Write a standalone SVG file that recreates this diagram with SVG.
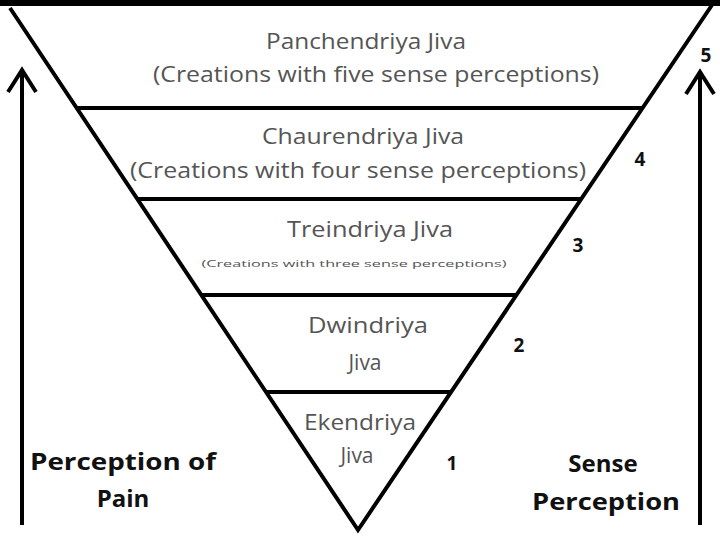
<svg xmlns="http://www.w3.org/2000/svg" width="720" height="541" viewBox="0 0 720 541">
<style>
.l{stroke:#000;stroke-width:4;fill:none}
.t{font-family:"Open Sans","Liberation Sans",sans-serif;fill:#555;font-size:21px;text-anchor:middle}
.n{font-family:"Open Sans","Liberation Sans",sans-serif;fill:#111;font-size:19px;font-weight:bold;text-anchor:middle}
.b{font-family:"Open Sans","Liberation Sans",sans-serif;fill:#111;font-size:24px;font-weight:bold;text-anchor:middle}
</style>
<rect width="720" height="541" fill="#fff"/>
<g id="connectors">
<line class="l" x1="0" y1="3" x2="720" y2="3" style="stroke-width:6"/>
<path class="l" d="M10,8 L358,530 L712,5"/>
<line class="l" x1="77" y1="108" x2="643" y2="108"/>
<line class="l" x1="137" y1="199" x2="581" y2="199"/>
<line class="l" x1="201" y1="295" x2="516" y2="295"/>
<line class="l" x1="266" y1="392" x2="451" y2="392"/>
<path class="l" d="M22,525 V70 M8,92 L22,70 L36,92"/>
<path class="l" d="M700,525 V72 M686,94 L700,72 L714,94"/>
</g>
<g id="n5"><text class="t" x="366" y="49" textLength="200" lengthAdjust="spacingAndGlyphs">Panchendriya Jiva</text><text class="t" x="376" y="82" textLength="446" lengthAdjust="spacingAndGlyphs">(Creations with five sense perceptions)</text><text class="n" x="706" y="62">5</text></g>
<g id="n4"><text class="t" x="363" y="144" textLength="202" lengthAdjust="spacingAndGlyphs">Chaurendriya Jiva</text><text class="t" x="358" y="178" textLength="456" lengthAdjust="spacingAndGlyphs">(Creations with four sense perceptions)</text><text class="n" x="640" y="166">4</text></g>
<g id="n3"><text class="t" x="370" y="237" textLength="166" lengthAdjust="spacingAndGlyphs">Treindriya Jiva</text><text class="t" x="354" y="267" style="font-size:9px" textLength="305" lengthAdjust="spacingAndGlyphs">(Creations with three sense perceptions)</text><text class="n" x="578" y="252">3</text></g>
<g id="n2"><text class="t" x="368" y="333" textLength="120" lengthAdjust="spacingAndGlyphs">Dwindriya</text><text class="t" x="365" y="370">Jiva</text><text class="n" x="519" y="352">2</text></g>
<g id="n1"><text class="t" x="360" y="430" textLength="112" lengthAdjust="spacingAndGlyphs">Ekendriya</text><text class="t" x="357" y="463">Jiva</text><text class="n" x="452" y="470">1</text></g>
<g id="left"><text class="b" x="123" y="470" textLength="186" lengthAdjust="spacingAndGlyphs">Perception of</text><text class="b" x="123" y="507">Pain</text></g>
<g id="right"><text class="b" x="603" y="472">Sense</text><text class="b" x="606" y="510" textLength="148" lengthAdjust="spacingAndGlyphs">Perception</text></g>
</svg>
